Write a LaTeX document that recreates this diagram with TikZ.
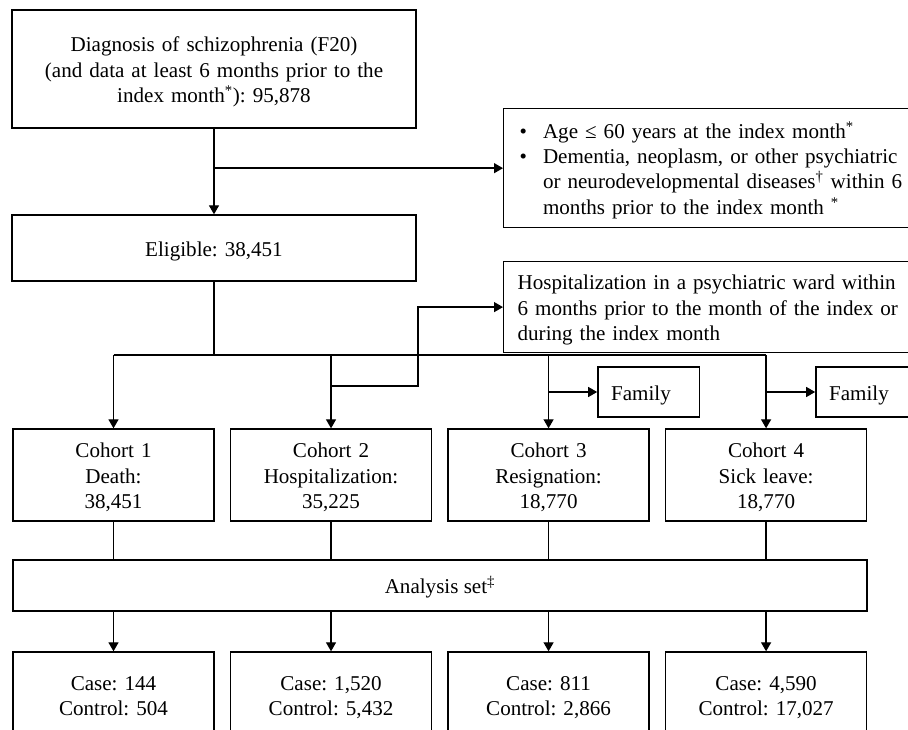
\documentclass[tikz,border=0pt]{standalone}
\usepackage{fontspec}
\setmainfont{Liberation Serif}
\usepackage{tikz}
\usetikzlibrary{arrows.meta,positioning}
\frenchspacing

\begin{document}
\begin{tikzpicture}
        [x=0.75pt,y=-0.75pt,->,>={Triangle[length=6.75pt,width=7.5pt]},line width=1pt,node distance=11.4pt,
        every node/.style={font=\fontsize{15.8}{19}\selectfont,inner xsep=5pt,
            execute at begin node={\rule{0pt}{17.8pt}},execute at end node=\strut},
        main node/.style={draw,align=center,text width=293pt,minimum height=49.5pt},
        excl node/.style={draw,align=left,anchor=north west},
        cohort node/.style={draw,align=center,text width=140.75pt,minimum height=69pt},
        case node/.style={draw,align=center,text width=140.75pt,minimum height=64.5pt},
        family node/.style={draw,align=left,text width=56pt,inner xsep=10pt,minimum height=37.5pt}]
    
    \clip (0,0) rectangle (908,730);
    
    \node[main node,minimum height=88.5pt] (diag) at (214,69) {Diagnosis of schizophrenia (F20)\\(and data at least 6 months prior to the\\index month\textsuperscript{*}): 95,878};
    \node[main node] (elig) at (214,248) {Eligible: 38,451};
    \node[excl node,text width=315pt,inner xsep=12pt,minimum height=89.25pt,execute at end node={}] (excl) at (503,108) {%
        \begin{tabular}[t]{@{}l@{\hspace{12pt}}l@{}}
        \textbullet & Age ≤ 60 years at the index month\textsuperscript{*}\\
        \textbullet & Dementia, neoplasm, or other psychiatric\\
                    & or neurodevelopmental diseases\textsuperscript{†} within 6\\
                    & months prior to the index month \textsuperscript{*}
        \end{tabular}};
    \node[excl node,text width=330pt,inner xsep=10.5pt,minimum height=59.25pt] (hosp) at (503,261) {Hospitalization in a psychiatric ward within\\6 months prior to the month of the index or\\during the index month};
    
    \node[cohort node] (c1) at (113.5,475) {Cohort 1\\Death:\\38,451};
    \node[cohort node,right=of c1] (c2) {Cohort 2\\Hospitalization:\\35,225};
    \node[cohort node,right=of c2] (c3) {Cohort 3\\Resignation:\\18,770};
    \node[cohort node,right=of c3] (c4) {Cohort 4\\Sick leave:\\18,770};
    
    \node[family node] (fam3) at (648.5,392) {Family};
    \node[family node] (fam4) at (866.5,392) {Family};
    
    \node[draw,minimum width=640.5pt,minimum height=38.25pt] (ana) at (440,585.5) {Analysis set\textsuperscript{‡}};
    
    \node[case node] (k1) at (113.5,695) {Case: 144\\Control: 504};
    \node[case node,right=of k1] (k2) {Case: 1,520\\Control: 5,432};
    \node[case node,right=of k2] (k3) {Case: 811\\Control: 2,866};
    \node[case node,right=of k3] (k4) {Case: 4,590\\Control: 17,027};
    
    \coordinate (bus) at (214,355);
    \coordinate (turn) at (418,386);
    
    \draw (diag) -- (elig);
    \draw (diag.south |- excl.west) -- (excl.west);
    \draw[-] (elig) -- (bus);
    \draw[-] (c1.north |- bus) -- (c4.north |- bus);
    \foreach \c in {c1,c2,c3,c4}
        \draw (\c.north |- bus) -- (\c.north);
    \draw (c2.north |- turn) -- (turn) |- (hosp.west);
    \draw (c3.north |- fam3.west) -- (fam3.west);
    \draw (c4.north |- fam4.west) -- (fam4.west);
    \foreach \c/\k in {c1/k1,c2/k2,c3/k3,c4/k4}{
        \draw[-] (\c.south) -- (\c.south |- ana.north);
        \draw (\c.south |- ana.south) -- (\k.north);
    }
    
\end{tikzpicture}
\end{document}
